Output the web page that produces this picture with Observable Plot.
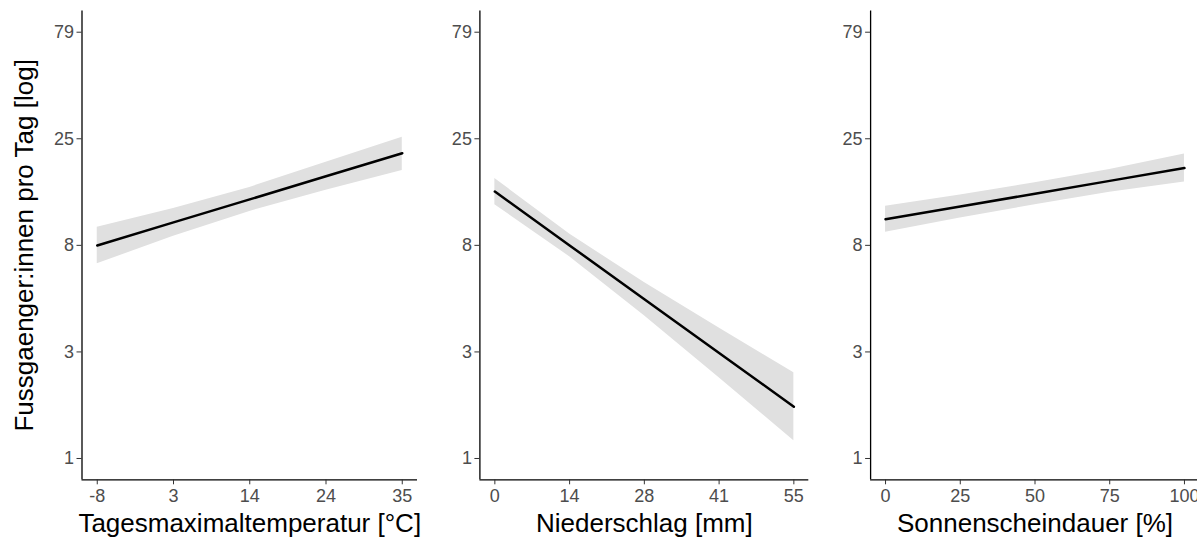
<!DOCTYPE html>
<html>
<head>
<meta charset="utf-8">
<script src="https://cdn.jsdelivr.net/npm/d3@7"></script>
<script src="https://cdn.jsdelivr.net/npm/@observablehq/plot@0.6"></script>
<style>
  html, body { margin: 0; padding: 0; background: #fff; overflow: hidden; }
  #wrap { position: relative; width: 1197px; height: 546px; overflow: hidden; background: #fff; }
  #wrap > svg { position: absolute; top: 0; }
</style>
</head>
<body>
<div id="wrap"></div>
<script>
// ---- y axis (log, shared) ----
const yTitle = "Fussgaenger:innen pro Tag [log]";
const yTickValues = [1, 2.981, 8.888, 26.50, 79];
const yTickLabels = ["1", "3", "8", "25", "79"];

// ---- panel 1: temperature ----
const tempTitle = "Tagesmaximaltemperatur [°C]";
const tempTicks = [-8, 2.75, 13.5, 24.25, 35];
const tempTickLabels = ["-8", "3", "14", "24", "35"];
const tempX   = [-8, 2.75, 13.5, 24.25, 35];
const tempFit = [8.88, 11.25, 14.24, 18.04, 22.86];
const tempLo  = [7.36, 9.75, 12.59, 15.63, 19.15];
const tempHi  = [10.71, 12.98, 16.10, 20.82, 26.93];

// ---- panel 2: precipitation ----
const rainTitle = "Niederschlag [mm]";
const rainTicks = [0, 13.75, 27.5, 41.25, 55];
const rainTickLabels = ["0", "14", "28", "41", "55"];
const rainX   = [0, 13.75, 27.5, 41.25, 55];
const rainFit = [15.42, 8.88, 5.12, 2.95, 1.70];
const rainLo  = [13.48, 7.91, 4.32, 2.29, 1.20];
const rainHi  = [17.64, 9.98, 6.07, 3.81, 2.41];

// ---- panel 3: sunshine ----
const sunTitle = "Sonnenscheindauer [%]";
const sunTicks = [0, 25, 50, 75, 100];
const sunTickLabels = ["0", "25", "50", "75", "100"];
const sunX   = [0, 25, 50, 75, 100];
const sunFit = [11.61, 13.24, 15.09, 17.21, 19.62];
const sunLo  = [10.16, 11.77, 13.48, 15.30, 17.00];
const sunHi  = [13.26, 14.89, 16.90, 19.36, 22.65];

const FONT = "'Liberation Sans', Arial, sans-serif";

function expand(lo, hi) { const e = (hi - lo) * 0.05; return [lo - e, hi + e]; }

// y is drawn on a natural-log axis
const yTicksLn = yTickValues.map(Math.log);
const yDomain = expand(yTicksLn[0], yTicksLn[yTicksLn.length - 1]);
const yLabelFor = d => yTickLabels[d3.minIndex(yTicksLn, t => Math.abs(t - d))];

function panel({left, width, marginLeft, marginRight, xs, fit, lo, hi, ticks, tickLabels, title, showYTitle}) {
  const rows = xs.map((x, i) => ({x, fit: fit[i], lo: lo[i], hi: hi[i]}));
  const xDomain = expand(ticks[0], ticks[ticks.length - 1]);
  const xLabelFor = d => tickLabels[d3.minIndex(ticks, t => Math.abs(t - d))];
  const marks = [
    Plot.areaY(rows, {x: "x", y1: d => Math.log(d.lo), y2: d => Math.log(d.hi), fill: "#e0e0e0"}),
    Plot.lineY(rows, {x: "x", y: d => Math.log(d.fit), stroke: "#000", strokeWidth: 2.5}),
    Plot.ruleX([xDomain[0]], {stroke: "#000", strokeWidth: 1.3}),
    Plot.ruleY([yDomain[0]], {stroke: "#000", strokeWidth: 1.3}),
    Plot.axisX({ticks, tickFormat: xLabelFor, tickSize: 5, tickPadding: 4,
      fontSize: 18, stroke: "#333", fill: "#4d4d4d", label: null}),
    Plot.axisY({ticks: yTicksLn, tickFormat: yLabelFor, tickSize: 5, tickPadding: 3,
      fontSize: 18, stroke: "#333", fill: "#4d4d4d", label: null}),
    Plot.text([title], {frameAnchor: "bottom", dy: 52, fontSize: 26, fill: "#000"})
  ];
  if (showYTitle) {
    marks.push(Plot.text([yTitle], {frameAnchor: "left", textAnchor: "middle", rotate: -90, dx: -57, fontSize: 26, fill: "#000"}));
  }
  const svg = Plot.plot({
    width, height: 546,
    marginLeft, marginRight, marginTop: 10.4, marginBottom: 66.7,
    style: {fontFamily: FONT, fontSize: "18px", background: "transparent", overflow: "visible"},
    x: {domain: xDomain},
    y: {type: "linear", domain: yDomain},
    marks
  });
  svg.style.left = left + "px";
  document.getElementById("wrap").appendChild(svg);
}

panel({left: 0, width: 420, marginLeft: 81.5, marginRight: 3,
  xs: tempX, fit: tempFit, lo: tempLo, hi: tempHi, ticks: tempTicks, tickLabels: tempTickLabels, title: tempTitle, showYTitle: true});
panel({left: 420, width: 400, marginLeft: 59.4, marginRight: 11.7,
  xs: rainX, fit: rainFit, lo: rainLo, hi: rainHi, ticks: rainTicks, tickLabels: rainTickLabels, title: rainTitle});
panel({left: 820, width: 390, marginLeft: 50.1, marginRight: 11.1,
  xs: sunX, fit: sunFit, lo: sunLo, hi: sunHi, ticks: sunTicks, tickLabels: sunTickLabels, title: sunTitle});
</script>
</body>
</html>
